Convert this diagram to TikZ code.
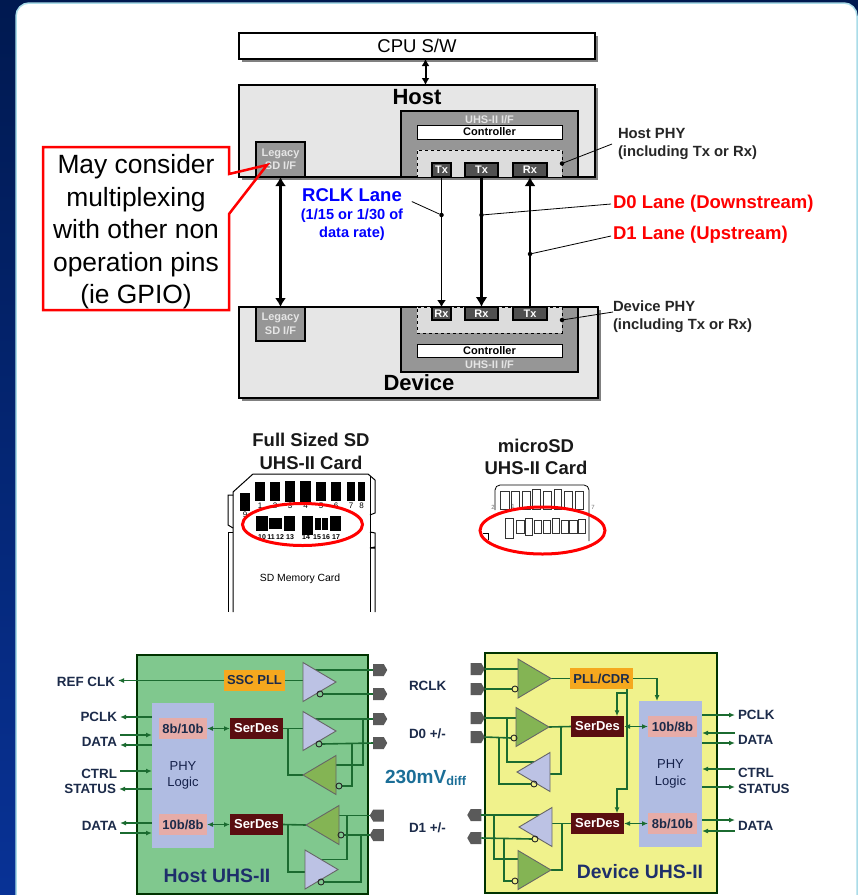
\documentclass[tikz,border=0pt]{standalone}
\usepackage{fontspec}
\setmainfont{Liberation Sans}
\usetikzlibrary{arrows.meta,positioning,shapes.geometric,shapes.symbols,shadows}
\pgfdeclarelayer{front}
\pgfsetlayers{main,front}
\definecolor{navytop}{RGB}{0,25,80}
\definecolor{navybot}{RGB}{8,50,150}
\definecolor{panelline}{RGB}{170,220,232}
\definecolor{boxgray}{RGB}{230,230,230}
\definecolor{ifgray}{RGB}{150,150,150}
\definecolor{phygray}{RGB}{220,220,220}
\definecolor{pingray}{RGB}{80,80,80}
\definecolor{hostgreen}{RGB}{128,200,142}
\definecolor{devyellow}{RGB}{240,242,140}
\definecolor{phyblue}{RGB}{176,188,226}
\definecolor{amplav}{RGB}{188,194,228}
\definecolor{ampgreen}{RGB}{132,180,84}
\definecolor{pinkbox}{RGB}{230,172,168}
\definecolor{maroonbox}{RGB}{90,14,16}
\definecolor{orangebox}{RGB}{245,168,30}
\definecolor{wiregreen}{RGB}{27,107,48}
\definecolor{padgray}{RGB}{90,90,90}
\definecolor{labelnavy}{RGB}{28,43,74}
\definecolor{titlenavy}{RGB}{30,47,107}
\definecolor{tealtext}{RGB}{27,110,151}
\begin{document}
\begin{tikzpicture}[
  x=1pt, y=-1pt, >={Latex[length=6pt,width=5pt]},
  every node/.style={inner sep=0pt,outer sep=0pt,align=center},
  hostbox/.style={draw,line width=2pt,drop shadow={shadow xshift=3pt,shadow yshift=-3pt,fill=black!50,opacity=1}},
  ifbox/.style={draw,line width=2pt,fill=ifgray},
  ctlbox/.style={draw,line width=1pt,fill=white,minimum width=145pt,font=\fontsize{11}{13}\selectfont\bfseries},
  phybox/.style={draw,dashed,line width=1pt,fill=phygray,minimum width=145pt},
  pinbox/.style={draw,line width=1.5pt,fill=pingray,text=white,font=\fontsize{11}{13}\selectfont\bfseries},
  iftext/.style={text=black!10,font=\fontsize{11}{13.5}\selectfont\bfseries},
  bigname/.style={font=\fontsize{22}{24}\selectfont\bfseries},
  sidenote/.style={align=left,anchor=west,font=\fontsize{14.8}{18}\selectfont\bfseries,text=black!85},
  redlane/.style={anchor=west,inner sep=2pt,text=red,font=\fontsize{18.5}{21}\selectfont\bfseries},
  lane/.style={line width=2pt}, leader/.style={line width=0.8pt},
  dotmark/.style={circle,fill=black,minimum size=4.5pt},
  cardtitle/.style={font=\fontsize{18.5}{23}\selectfont\bfseries,text=black!90},
  redring/.style={draw=red,line width=3pt,ellipse},
  pinnum/.style={font=\fontsize{7}{8}\selectfont\bfseries},
  micropin/.style={draw=black!80,line width=0.8pt},
  hostblock/.style={draw=black!80!green,line width=2pt,fill=hostgreen,anchor=north west},
  devblock/.style={draw=black!80!green,line width=2pt,fill=devyellow,anchor=north west},
  logicbox/.style={fill=phyblue,anchor=north west,text=titlenavy!70!black,font=\fontsize{13}{16.5}\selectfont},
  codec/.style={fill=pinkbox,anchor=north west,text=labelnavy,minimum height=21pt,font=\fontsize{13}{15}\selectfont\bfseries},
  serdes/.style={fill=maroonbox,anchor=north west,text=white,minimum width=53pt,minimum height=20.5pt,font=\fontsize{13}{15}\selectfont\bfseries},
  pllbox/.style={fill=orangebox,anchor=north west,text=labelnavy,minimum height=21pt,font=\fontsize{13}{15}\selectfont\bfseries},
  amp/.style={isosceles triangle,isosceles triangle stretches,minimum width=39pt,minimum height=33pt,draw=black!60,line width=0.9pt,anchor=apex},
  ampr/.style={amp,fill=amplav},
  ampg/.style={amp,fill=ampgreen},
  bubble/.style={circle,draw=black!85,fill=none,line width=0.9pt,minimum size=6pt},
  padr/.style={signal,signal to=east,signal from=nowhere,signal pointer angle=120,fill=padgray,minimum width=14pt,minimum height=12pt},
  padl/.style={signal,signal to=west,signal from=nowhere,signal pointer angle=120,fill=padgray,minimum width=14pt,minimum height=12pt},
  wire/.style={line width=1.6pt,color=wiregreen},
  sideleft/.style={anchor=east,inner sep=3pt,text=labelnavy,font=\fontsize{13.4}{15}\selectfont\bfseries},
  sideright/.style={anchor=west,inner sep=3pt,text=labelnavy,font=\fontsize{13.4}{15}\selectfont\bfseries},
  blocktitle/.style={text=titlenavy,font=\fontsize{19.4}{22}\selectfont\bfseries}]
\useasboundingbox (0,0) rectangle (858,895);
\shade[top color=navytop,bottom color=navybot] (0,0) rectangle (858,895);
\draw[panelline,line width=1.5pt,fill=white] (16,897) [rounded corners=13pt] -- (16,3) -- (857,3) [sharp corners] -- (857,897) -- cycle;

\node[hostbox,fill=white,minimum width=356pt,minimum height=26pt,font=\fontsize{18.5}{21}\selectfont] (cpu) at (417,46) {CPU S/W};
\node[hostbox,fill=boxgray,minimum width=356pt,minimum height=92pt,below=26pt of cpu] (host) {};
\node[bigname] (hostname) at (417,97) {Host};
\node[ifbox,minimum width=177pt,minimum height=66pt,anchor=south east] (hostif) at ([xshift=-17pt]host.south east) {};
\node[phybox,minimum height=27pt,anchor=south] (hostphy) at (hostif.south) {};
\node[ctlbox,minimum height=14pt,above=11pt of hostphy] (hostctl) {Controller};
\node[iftext,above=1.5pt of hostctl] (hostuhs) {UHS-II I/F};
\node[pinbox,minimum width=19pt,minimum height=14pt,anchor=south west] (hosttxa) at ([xshift=15pt]hostphy.south west) {Tx};
\node[pinbox,minimum width=33pt,minimum height=14pt,right=14pt of hosttxa] (hosttxb) {Tx};
\node[pinbox,minimum width=34pt,minimum height=14pt,right=15pt of hosttxb] (hostrx) {Rx};
\node[ifbox,iftext,minimum width=49pt,minimum height=35pt,anchor=south west] (hostlegacy) at ([xshift=17pt]host.south west) {Legacy\\SD I/F};

\node[hostbox,fill=boxgray,minimum width=359pt,minimum height=91pt,anchor=north west] (device) at (239,307) {};
\node[bigname] (devicename) at (419,383) {Device};
\node[ifbox,minimum width=177pt,minimum height=65pt,anchor=north west] (devif) at ([xshift=162pt]device.north west) {};
\node[phybox,minimum height=26pt,anchor=north] (devphy) at (devif.north) {};
\node[ctlbox,minimum height=13pt,below=11pt of devphy] (devctl) {Controller};
\node[iftext,below=3.5pt of devctl] (devuhs) {UHS-II I/F};
\node[pinbox,minimum width=19pt,minimum height=13pt,anchor=north west] (devrxa) at ([xshift=15pt]devphy.north west) {Rx};
\node[pinbox,minimum width=33pt,minimum height=13pt,right=14pt of devrxa] (devrxb) {Rx};
\node[pinbox,minimum width=34pt,minimum height=13pt,right=15pt of devrxb] (devtx) {Tx};
\node[ifbox,iftext,minimum width=49pt,minimum height=34pt,anchor=north west] (devlegacy) at ([xshift=17pt]device.north west) {Legacy\\SD I/F};

\draw[<->,lane,>={Latex[length=7pt,width=8pt]}] ([xshift=8.5pt]cpu.south) -- ([xshift=8.5pt]host.north);
\draw[<->,lane,line width=2.2pt,>={Latex[length=9pt,width=11pt]}] (hostlegacy.south) -- (devlegacy.north);
\draw[->,line width=1.3pt,>={Latex[length=7pt,width=9pt]}] (hosttxa.south) -- (devrxa.north);
\draw[->,line width=2.6pt,>={Latex[length=10pt,width=12pt]}] (hosttxb.south) -- (devrxb.north);
\draw[->,line width=2.2pt,>={Latex[length=9pt,width=11pt]}] (devtx.north) -- (hostrx.south);

\node[text=blue,font=\fontsize{18.5}{21}\selectfont\bfseries] (rclklane) at (352,195) {RCLK Lane};
\node[below=7pt of rclklane,text=blue,font=\fontsize{14.6}{18}\selectfont\bfseries] (rclkrate) {(1/15 or 1/30 of\\data rate)};
\node[dotmark] (rclkdot) at (hosttxa.south |- 0,215) {};
\node[dotmark] (dzerodot) at (hosttxb.south |- 0,215) {};
\node[dotmark] (donedot) at (hostrx.south |- 0,254) {};
\node[dotmark] (hostphydot) at (hostphy.east) {};
\node[dotmark] (devphydot) at (devphy.east) {};
\node[sidenote] (hostphynote) at (618,144) {Host PHY\\(including Tx or Rx)};
\node[sidenote] (devphynote) at (613,317) {Device PHY\\(including Tx or Rx)};
\node[redlane] (dzerolane) at (611,204) {D0 Lane (Downstream)};
\node[redlane] (donelane) at (611,235) {D1 Lane (Upstream)};
\draw[leader] ([xshift=10pt]rclklane.south east) -- (rclkdot);
\draw[leader] (dzerodot) -- (dzerolane.west);
\draw[leader] (donedot) -- ([yshift=-1pt]donelane.west);
\draw[leader] (hostphydot) -- ([xshift=-6pt]hostphynote.west);
\draw[leader] (devphydot) -- ([yshift=5pt]devphynote.west);

\node[fill=white,minimum width=186pt,minimum height=163pt,font=\fontsize{26.4}{32.5}\selectfont] (callout) at (136,228.5) {\rule{0pt}{26pt}May consider\\multiplexing\\with other non\\operation pins\\(ie GPIO)};
\coordinate (calltip) at (267,165);
\draw[red,line width=2.5pt,line join=miter] (callout.north west) -- (callout.north east) -- ([yshift=-27pt]callout.north east) -- (calltip) -- ([yshift=-67pt]callout.north east) -- (callout.south east) -- (callout.south west) -- cycle;

\node[cardtitle] (sdtitle) at (311,451.5) {Full Sized SD\\UHS-II Card};
\draw[line width=1pt] (233,612) -- (233,492) -- (253,474) -- (368,474) -- (375,480) -- (375,513) -- (370,515);
\draw[line width=1pt] (233,495) -- (228,495) -- (228,525) -- (233,528);
\draw[line width=1pt] (233,532) -- (228,532) -- (228,612);
\draw[line width=1pt] (370,476) -- (370,612);
\draw[line width=1pt] (370,532) -- (375,533) -- (375,547) -- (370,548) -- (375,548) -- (375,612);
\foreach \xa/\xb/\ya/\yb in {255/265/482/501,270/280/482/501,285/295/481/502,300/311/481/502,316/326/482/501,331/341/482/501,347/355/482/501,358/365/482/501,240/250/493/511,256/268/516/531,269/275.5/518/529,276/282/518/529,284/295/516/531,302/313/516/535,315/321/518/530,322/328/518/530,330/341/516/531}
  \fill (\xa,\ya) rectangle (\xb,\yb);
\foreach \n/\xa in {1/260,2/275,3/290,4/305.5,5/321,6/336,7/351,8/361.5}
  \node[pinnum,font=\fontsize{8}{9}\selectfont] (pin\n) at (\xa,506) {\n};
\node[pinnum,font=\fontsize{8}{9}\selectfont] (pinnine) at (245,515) {9};
\foreach \n/\xa in {10/262,11/271,12/280,13/290,14/306,15/317,16/326,17/336}
  \node[pinnum] (pin\n) at (\xa,537) {\n};
\node[redring,minimum width=120pt,minimum height=42pt] (sdring) at (302.5,524.5) {};
\node[font=\fontsize{10.4}{12}\selectfont] (sdlabel) at (300,579) {SD Memory Card};

\node[cardtitle,font=\fontsize{18.5}{22}\selectfont\bfseries] (microtitle) at (536,457) {microSD\\UHS-II Card};
\draw[line width=0.8pt,rounded corners=5pt] (495,510) -- (495,485) -- (589,485) -- (589,541);
\foreach \xa/\xb/\ya/\yb in {500.7/509/491/509.3,511.3/519.3/491/509.3,522/530/491/509.3,532.7/540.3/489.3/509.3,543.3/551.7/491/509.3,554/561.7/489.3/509.3,564.7/572.3/491/509.3,575.3/583.3/491/509.3,505/513.3/518.3/538.3,516.3/524/520.7/533,525/532.7/518.3/535.7,534/541.7/520.7/533,543/550.7/520.7/533,552/559.7/518.3/533,561/568.7/520.7/533,569.7/577.3/520.7/533,578.3/585.7/519/533}
  \draw[micropin] (\xa,\ya) rectangle (\xb,\yb);
\draw[line width=0.8pt] (483,533) -| (488,540);
\node[pinnum,font=\fontsize{6}{7}\selectfont,text=black!55] (microtwo) at (493,507) {2};
\node[pinnum,font=\fontsize{6}{7}\selectfont,text=black!55] (microone) at (513,506) {1};
\node[pinnum,font=\fontsize{6}{7}\selectfont,text=black!55] (microseven) at (593,507) {7};
\node[redring,minimum width=125pt,minimum height=47pt] (microring) at (542.5,530.5) {};

\node[hostblock,minimum width=231pt,minimum height=239pt] (hostuhsii) at (137,655) {};
\node[logicbox,minimum width=62pt,minimum height=145pt] (hostlogic) at (152,703) {PHY\\Logic};
\node[pllbox,minimum width=61pt] (hostpll) at (224,670) {SSC PLL};
\node[codec,minimum width=48pt] (hostenc) at (159,718) {8b/10b};
\node[serdes,right=23pt of hostenc] (hostdesa) {SerDes};
\node[codec,minimum width=48pt] (hostdec) at (159,814) {10b/8b};
\node[serdes,right=23pt of hostdec] (hostdesb) {SerDes};
\node[blocktitle] (hostuhsname) at (217,876) {Host UHS-II};
\begin{pgfonlayer}{front}
\node[ampr] (hostampa) at (336,682) {};
\node[ampr] (hostampb) at (336,731) {};
\node[ampg,shape border rotate=180] (hostampc) at (303,775) {};
\node[ampg,shape border rotate=180] (hostampd) at (306,825) {};
\node[ampr] (hostampe) at (338,869.5) {};
\node[bubble] (hbuba) at (320,694) {};
\node[bubble] (hbubb) at (319,744) {};
\node[bubble] (hbubc) at (339,786) {};
\node[bubble] (hbubd) at (341,835) {};
\node[bubble] (hbube) at (321,882) {};
\end{pgfonlayer}
\node[padr] (hpada) at (378.5,670) {};
\node[padr] (hpadb) at (378.5,694) {};
\node[padr] (hpadc) at (378.5,719) {};
\node[padr] (hpadd) at (378.5,743) {};
\node[padl] (hpade) at (378.5,815.5) {};
\node[padl] (hpadf) at (378.5,835) {};
\node[sideleft] (hrefclk) at (118,682) {REF CLK};
\node[sideleft] (hpclk) at (120,717) {PCLK};
\node[sideleft] (hdata) at (120,742) {DATA};
\node[sideleft] (hctrl) at (120,774) {CTRL};
\node[sideleft] (hstatus) at (119,789) {STATUS};
\node[sideleft] (hdatb) at (120,826) {DATA};
\draw[wire,->] (hostpll.west) -- (hostpll.west -| hrefclk.east);
\draw[wire,<-] (hpclk.east) -- (hpclk.east -| hostlogic.west);
\draw[wire,->] ([yshift=7pt]hdata.east) -- ([yshift=7pt]hdata.east -| hostlogic.west);
\draw[wire,<-] ([yshift=-3pt]hdata.east) -- ([yshift=-3pt]hdata.east -| hostlogic.west);
\draw[wire,->] ([yshift=3pt]hctrl.east) -- ([yshift=3pt]hctrl.east -| hostlogic.west);
\draw[wire,<-] (hstatus.east) -- (hstatus.east -| hostlogic.west);
\draw[wire,<-] ([yshift=3pt]hdatb.east) -- ([yshift=3pt]hdatb.east -| hostlogic.west);
\draw[wire,->] ([yshift=-7pt]hdatb.east) -- ([yshift=-7pt]hdatb.east -| hostlogic.west);
\draw[wire,<->] (hostenc) -- (hostdesa);
\draw[wire,<->] (hostdec) -- (hostdesb);
\draw[wire] (hostpll.east) -- (hostpll.east -| hostampa.center);
\draw[wire] (hpada.west) -- (hpada.west -| hostampa.center);
\draw[wire] (hpadb.west) -- (hbuba.east);
\draw[wire] (hostdesa.east) -- (hostdesa.east -| hostampb.center);
\draw[wire] (hpadc.west) -- (hpadc.west -| hostampb.center);
\draw[wire] (hpadd.west) -- (hbubb.east);
\coordinate (hjoina) at ([xshift=5pt]hostdesa.east);
\draw[wire] (hjoina) |- (hostampc.apex);
\coordinate (hbusa) at ([xshift=-10pt]hpadc.west);
\draw[wire] (hbusa) |- ([yshift=10pt]hostampc.center);
\coordinate (hbusb) at ([xshift=-21.5pt]hpadd.west);
\draw[wire] (hbusb) |- (hbubc.east);
\draw[wire] (hostdesb.east) -- (hostampd.apex);
\draw[wire] (hpade.west) -- (hpade.west -| hostampd.center);
\draw[wire] (hpadf.west) -- (hbubd.east);
\coordinate (hjoinb) at ([xshift=5pt]hostdesb.east);
\draw[wire] (hjoinb) |- ([yshift=-2.5pt]hostampe.center);
\coordinate (hbusc) at ([xshift=-23pt]hpade.west);
\draw[wire] (hbusc) |- ([yshift=10pt]hostampe.center);
\coordinate (hbusd) at ([xshift=-9pt]hpadf.west);
\draw[wire] (hbusd) |- (hbube.east);

\node[sideright,anchor=west,inner sep=0pt] (midrclk) at (409,686) {RCLK};
\node[sideright,anchor=west,inner sep=0pt] (middzero) at (409,734) {D0 +/-};
\node[sideright,anchor=west,inner sep=0pt] (middone) at (409,828) {D1 +/-};
\node[anchor=west,text=tealtext,font=\fontsize{19}{22}\selectfont\bfseries] (midvolt) at (385,778) {230mV\raisebox{-2pt}{\fontsize{12.7}{14}\selectfont diff}};

\node[devblock,minimum width=232pt,minimum height=240pt] (devuhsii) at (485,653) {};
\node[logicbox,minimum width=63pt,minimum height=146pt] (devlogic) at (639,701) {PHY\\Logic};
\node[pllbox,minimum width=63pt] (devpll) at (570,668) {PLL/CDR};
\node[codec,minimum width=49pt] (devdec) at (648,716) {10b/8b};
\node[serdes,left=24pt of devdec] (devdesa) {SerDes};
\node[codec,minimum width=49pt] (devenc) at (648,813) {8b/10b};
\node[serdes,left=24pt of devenc] (devdesb) {SerDes};
\node[blocktitle] (devuhsname) at (640,872) {Device UHS-II};
\begin{pgfonlayer}{front}
\node[ampg] (devampa) at (551,678.5) {};
\node[ampg] (devampb) at (549,727) {};
\node[ampr,shape border rotate=180] (devampc) at (517,772) {};
\node[ampr,shape border rotate=180] (devampd) at (519,827) {};
\node[ampg] (devampe) at (551,870) {};
\node[bubble] (dbuba) at (515,689) {};
\node[bubble] (dbubb) at (514,738) {};
\node[bubble] (dbubc) at (534,784) {};
\node[bubble] (dbubd) at (535,839) {};
\node[bubble] (dbube) at (515,881) {};
\end{pgfonlayer}
\node[padr] (dpada) at (476,669) {};
\node[padr] (dpadb) at (476,689) {};
\node[padr] (dpadc) at (476,718) {};
\node[padr] (dpadd) at (476,737) {};
\node[padl] (dpade) at (476,815) {};
\node[padl] (dpadf) at (476,838) {};
\node[sideright] (dpclk) at (735,715) {PCLK};
\node[sideright] (ddata) at (735,740) {DATA};
\node[sideright] (dctrl) at (735,773) {CTRL};
\node[sideright] (dstatus) at (735,789) {STATUS};
\node[sideright] (ddatb) at (735,826) {DATA};
\draw[wire,->] (dpclk.west -| devlogic.east) -- (dpclk.west);
\draw[wire,<-] ([yshift=7pt]ddata.west -| devlogic.east) -- ([yshift=7pt]ddata.west);
\draw[wire,->] ([yshift=-3pt]ddata.west -| devlogic.east) -- ([yshift=-3pt]ddata.west);
\draw[wire,<-] ([yshift=4pt]dctrl.west -| devlogic.east) -- ([yshift=4pt]dctrl.west);
\draw[wire,->] ([yshift=2pt]dstatus.west -| devlogic.east) -- ([yshift=2pt]dstatus.west);
\draw[wire,->] ([yshift=6pt]ddatb.west -| devlogic.east) -- ([yshift=6pt]ddatb.west);
\draw[wire,<-] ([yshift=-5pt]ddatb.west -| devlogic.east) -- ([yshift=-5pt]ddatb.west);
\draw[wire,<->] (devdesa) -- (devdec);
\draw[wire,<->] (devdesb) -- (devenc);
\draw[wire] (dpada.east) -- (dpada.east -| devampa.center);
\draw[wire] (dpadb.east) -- (dbuba.west);
\draw[wire] (devampa.apex) -- (devpll.west);
\draw[wire,->,line width=1.8pt] (devpll.east) -| ([xshift=18pt]devlogic.north west);
\coordinate (dpllb) at ([xshift=-6pt]devpll.south east);
\draw[wire,->] (dpllb) |- ([xshift=-7pt,yshift=24pt]devdesb.north east) -- ([xshift=-7pt]devdesb.north east);
\draw[wire,->] ([yshift=-4pt]dpllb) -| ([xshift=-7pt]devdesa.north east);
\draw[wire] (devdesa.west) -- (devampb.apex);
\draw[wire] (dpadc.east) -- (dpadc.east -| devampb.center);
\draw[wire] (dpadd.east) -- (dbubb.west);
\coordinate (dbusa) at ([xshift=22pt]dpadc.east);
\draw[wire] (dbusa) |- ([yshift=10pt]devampc.center);
\coordinate (dbusb) at ([xshift=14pt]dpadd.east);
\draw[wire] (dbusb) |- (dbubc.west);
\coordinate (djoina) at ([xshift=-10pt]devdesa.west);
\draw[wire] (djoina) |- ([yshift=-2pt]devampc.center);
\draw[wire] (devdesb.west) -- (devdesb.west -| devampd.center);
\draw[wire] (dpade.east) -- (dpade.east -| devampd.center);
\draw[wire] (dpadf.east) -- (dbubd.west);
\coordinate (dbusc) at ([xshift=13pt]dpade.east);
\draw[wire] (dbusc) |- ([yshift=11pt]devampe.center);
\coordinate (dbusd) at ([xshift=23pt]dpadf.east);
\draw[wire] (dbusd) |- (dbube.west);
\coordinate (djoinb) at ([xshift=-9pt]devdesb.west);
\draw[wire] (djoinb) |- (devampe.apex);
\end{tikzpicture}
\end{document}
